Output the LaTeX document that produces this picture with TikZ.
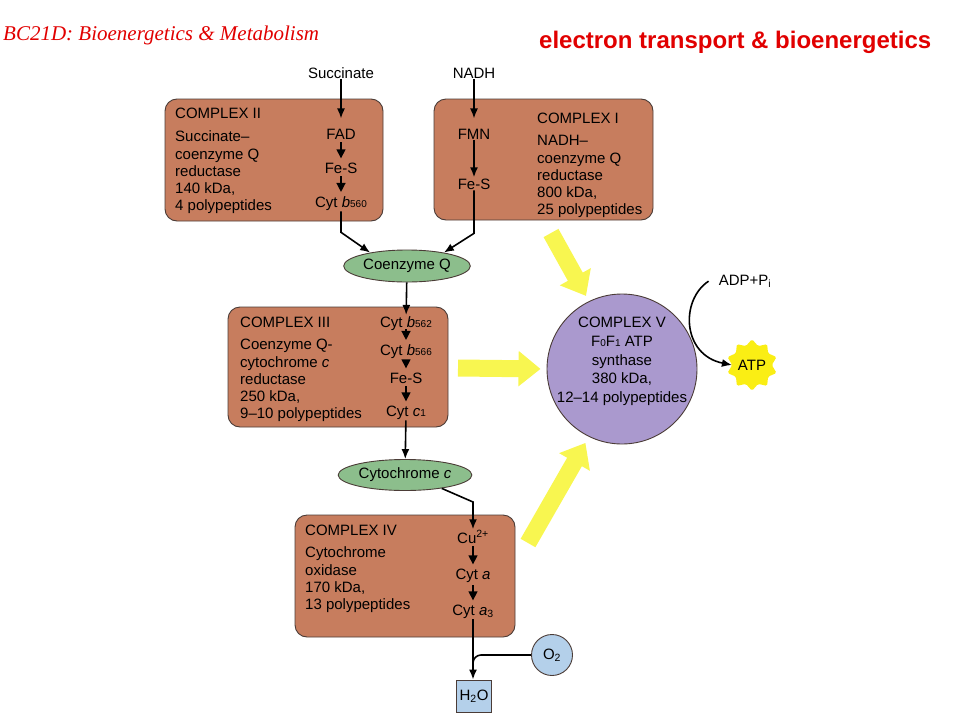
\documentclass[tikz,border=0pt]{standalone}
\usepackage{fontspec}
\setmainfont{Liberation Sans}
\newfontfamily\coursefont{Liberation Serif}
\usetikzlibrary{arrows.meta,shapes.geometric}
\definecolor{cplxbrown}{RGB}{199,125,94}
\definecolor{cplxedge}{RGB}{75,60,55}
\definecolor{cqgreen}{RGB}{140,190,140}
\definecolor{cvpurple}{RGB}{170,153,206}
\definecolor{waterblue}{RGB}{180,208,234}
\definecolor{hiyellow}{RGB}{248,246,80}
\definecolor{atpyellow}{RGB}{250,238,20}
\definecolor{titlered}{RGB}{225,0,0}
\newcommand\sm[1]{{\fontsize{10}{10}\selectfont #1}}

\begin{document}
\begin{tikzpicture}[x=1pt,y=-1pt,
    every node/.style={font=\fontsize{15}{17.2}\selectfont, inner sep=1pt},
    cplx/.style={draw=cplxedge, fill=cplxbrown, line width=0.9pt, rounded corners=12pt},
    cplxtext/.style={anchor=north west, align=left},
    item/.style={anchor=base},
    link/.style={line width=1.6pt, -{Latex[length=10pt,width=8pt]}},
    hop/.style={line width=1.4pt, -{Triangle[length=9pt,width=9pt]}, shorten <=2pt, shorten >=3pt},
    carrier/.style={ellipse, draw=cplxedge, fill=cqgreen, line width=0.9pt},
    fat/.style={draw=hiyellow, line width=17pt, -{Triangle[length=22pt,width=34pt]}}]
    %%%%% START %%%%%
    \useasboundingbox (0,0) rectangle (960,720);

    \node[anchor=base west, text=titlered, font=\coursefont\itshape\fontsize{21}{21}\selectfont] (course) at (2,40) {BC21D: Bioenergetics \& Metabolism};
    \node[anchor=base west, text=titlered, font=\bfseries\fontsize{24}{24}\selectfont] (topic) at (538,48) {electron transport \& bioenergetics};

    % complexes II and I
    \draw[cplx] (165,99) rectangle (383,221);
    \draw[cplx] (434,99) rectangle (653,220);
    \node[cplxtext] (c2text) at (174,107) {COMPLEX II\\[6pt]Succinate--\\coenzyme Q\\reductase\\140 kDa,\\4 polypeptides};
    \node[cplxtext] (c1text) at (536,112) {COMPLEX I\\[5pt]NADH--\\coenzyme Q\\reductase\\800 kDa,\\25 polypeptides};

    \node[item] (succ) at (341,78) {Succinate};
    \node[item] (fad) at (341,139) {FAD};
    \node[item] (fes2) at (341,173) {Fe-S};
    \node[item] (cytb560) at (341,207) {Cyt \textit{b}\sm{560}};

    \node[item] (nadh) at (474,78) {NADH};
    \node[item] (fmn) at (474,139) {FMN};
    \node[item] (fes1) at (474,189) {Fe-S};

    \draw[link, shorten >=9pt] (succ) -- (fad);
    \draw[hop] (fad) -- (fes2);
    \draw[hop] (fes2) -- (cytb560);
    \draw[link, shorten >=9pt] (nadh) -- (fmn);
    \draw[link] (fmn) -- (fes1);

    \node[carrier, minimum width=123pt, minimum height=32pt] (coq) at (407,266) {Coenzyme Q};
    \draw[link] (cytb560.south) -- ++(0,21) -- (coq.160);
    \draw[link] (fes1.south) -- ++(0,43) -- (coq.20);

    % complex III
    \draw[cplx] (228,307) rectangle (448,427);
    \node[cplxtext] (c3text) at (239,316) {COMPLEX III\\[5pt]Coenzyme Q-\\cytochrome \textit{c}\\reductase\\250 kDa,\\9--10 polypeptides};
    \node[item] (cytb562) at (406,327) {Cyt \textit{b}\sm{562}};
    \node[item] (cytb566) at (406,355) {Cyt \textit{b}\sm{566}};
    \node[item] (fes3) at (406,383) {Fe-S};
    \node[item] (cytc1) at (406,416) {Cyt \textit{c}\sm{1}};
    \draw[link] (coq) -- (cytb562);
    \draw[hop] (cytb562) -- (cytb566);
    \draw[hop] (cytb566) -- (fes3);
    \draw[hop] (fes3) -- (cytc1);

    \node[carrier, minimum width=125pt, minimum height=31pt] (cytc) at (405,475) {Cytochrome \textit{c}};
    \draw[link] (cytc1) -- (cytc);

    % complex IV
    \draw[cplx] (295,515) rectangle (515,637);
    \node[cplxtext] (c4text) at (304,524) {COMPLEX IV\\[5pt]Cytochrome\\oxidase\\170 kDa,\\13 polypeptides};
    \node[item] (cu) at (473,543) {Cu\textsuperscript{2+}};
    \node[item] (cyta) at (473,579) {Cyt \textit{a}};
    \node[item] (cyta3) at (473,615) {Cyt \textit{a}\textsubscript{3}};
    \draw[link] (cytc.-20) -- (473,502) -- (cu.north);
    \draw[hop] (cu) -- (cyta);
    \draw[hop] (cyta) -- (cyta3);

    \node[draw=cplxedge, fill=waterblue, line width=0.9pt, minimum width=35pt, minimum height=32pt] (h2o) at (474,696) {H\textsubscript{2}O};
    \node[circle, draw=cplxedge, fill=waterblue, line width=0.9pt, minimum size=41pt] (o2) at (552,655) {O\textsubscript{2}};
    \draw[link] (cyta3) -- (cyta3 |- h2o.north);
    \draw[line width=1.6pt, rounded corners=8pt, shorten >=14pt] (o2.west) -| (cyta3 |- h2o.north);

    % complex V
    \node[circle, draw=cplxedge, fill=cvpurple, line width=0.9pt, minimum size=150pt] (c5) at (622,369) {};
    \node[align=center, anchor=north, font=\fontsize{15}{18.7}\selectfont] (c5text) at (622,316) {COMPLEX V\\F\sm{0}F\sm{1} ATP\\synthase\\380 kDa,\\12--14 polypeptides};

    \draw[fat, shorten >=6pt] (551,233) -- (c5.116);
    \draw[fat, shorten >=6pt] (458,368) -- (c5.180);
    \draw[fat, shorten >=7pt] (528,543) -- (c5.-116);

    \node[item] (adp) at (745,285) {ADP+P\textsubscript{i}};
    \node[star, star points=10, star point ratio=1.3, fill=atpyellow, minimum size=44pt, inner sep=0pt, rounded corners=1.5pt] (atp) at (752,365) {ATP};
    \draw[link] ([xshift=-9pt]adp.west) .. controls (680,300) and (682,355) .. (atp.west);
    %%%%% END %%%%%
\end{tikzpicture}
\end{document}
